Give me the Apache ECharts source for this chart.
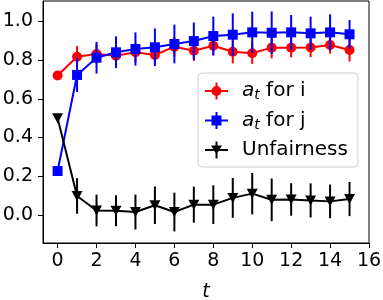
<!DOCTYPE html>
<html>
<head>
<meta charset="utf-8">
<script src="https://cdn.jsdelivr.net/npm/echarts@6/dist/echarts.min.js"></script>
<style>html,body{margin:0;padding:0;background:#fff;}#c{width:383px;height:300px;}</style>
</head>
<body>
<div id="c"></div>
<script>
const t = [0,1,2,3,4,5,6,7,8,9,10,11,12,13,14,15];
const aI = [0.72,0.817,0.831,0.822,0.84,0.826,0.869,0.848,0.874,0.843,0.835,0.864,0.864,0.865,0.878,0.852];
const aIErr = [0,0.055,0.05,0.055,0.05,0.05,0.05,0.053,0.05,0.06,0.055,0.055,0.05,0.05,0.045,0.06];
const aJ = [0.227,0.723,0.812,0.84,0.857,0.866,0.883,0.898,0.924,0.931,0.943,0.941,0.943,0.938,0.943,0.933];
const aJErr = [0,0.088,0.082,0.082,0.086,0.097,0.10,0.096,0.10,0.11,0.107,0.11,0.09,0.086,0.093,0.074];
const unf = [0.5,0.098,0.023,0.022,0.015,0.05,0.015,0.053,0.053,0.088,0.11,0.078,0.08,0.075,0.07,0.082];
const unfErr = [0,0.092,0.082,0.08,0.09,0.097,0.10,0.093,0.10,0.103,0.107,0.11,0.084,0.088,0.087,0.088];
const xTicks = [0,2,4,6,8,10,12,14,16];
const yTicks = [0,0.2,0.4,0.6,0.8,1.0];
const names = ['a_t for i','a_t for j','Unfairness'];
const colors = ['#ff0000','#0000ff','#000000'];

const FONT = 'DejaVu Sans';
function pts(ys){ return t.map((x,i)=>[x, ys[i]]); }
function errData(ys, es){ return t.map((x,i)=>[x, ys[i], es[i]]); }
function errSeries(name, ys, es, color, z){
  return {
    type:'custom', name:name, z:z, silent:true,
    data: errData(ys, es),
    encode:{x:0,y:1},
    renderItem:function(params, api){
      const x = api.value(0), y = api.value(1), e = api.value(2);
      if(!e) return null;
      const p1 = api.coord([x, y - e]);
      const p2 = api.coord([x, y + e]);
      return {type:'line', shape:{x1:p1[0],y1:p1[1],x2:p2[0],y2:p2[1]},
        style:{stroke:color, lineWidth:2}};
    }
  };
}
const iconCircle = 'path://M0 7.5H23V9.5H0Z M10.5 0H12.5V17H10.5Z M16.5 8.5A5 5 0 1 1 6.5 8.5A5 5 0 1 1 16.5 8.5Z';
const iconRect = 'path://M0 7.5H23V9.5H0Z M10.5 0H12.5V17H10.5Z M6.5 3.5H16.5V13.5H6.5Z';
const iconTri = 'path://M0 7.5H23V9.5H0Z M10.5 0H12.5V17H10.5Z M6 4H17L11.5 13Z';

const chart = echarts.init(document.getElementById('c'));
chart.setOption({
  animation:false,
  backgroundColor:'#fff',
  grid:{left:43, right:14, top:1, bottom:57, outerBoundsMode:'none', containLabel:false,
    show:true, borderColor:'#000', borderWidth:1, backgroundColor:'transparent'},
  xAxis:{type:'value', min:-0.75, max:16,
    name:'t', nameLocation:'middle', nameGap:40,
    nameTextStyle:{fontFamily:FONT, fontSize:19, fontStyle:'italic', color:'#000'},
    axisLine:{show:true, onZero:false, lineStyle:{color:'#000', width:1}},
    axisTick:{show:true, customValues:xTicks, length:5, lineStyle:{color:'#000'}},
    axisLabel:{customValues:xTicks, fontFamily:FONT, fontSize:19, color:'#000', margin:9},
    splitLine:{show:false}},
  yAxis:{type:'value', min:-0.145, max:1.105,
    axisLine:{show:true, onZero:false, lineStyle:{color:'#000', width:1}},
    axisTick:{show:true, customValues:yTicks, length:5, lineStyle:{color:'#000'}},
    axisLabel:{customValues:yTicks, fontFamily:FONT, fontSize:19, color:'#000', margin:10,
      formatter:function(v){return v.toFixed(1);}},
    splitLine:{show:false}},
  legend:{
    orient:'vertical', left:198, top:73,
    padding:[8,10,7,7], itemWidth:23, itemHeight:17, itemGap:8,
    borderColor:'#d0d0d0', borderWidth:1, borderRadius:4, backgroundColor:'rgba(255,255,255,0.8)',
    data:[
      {name:names[0], icon:iconCircle, itemStyle:{color:colors[0], borderWidth:0}},
      {name:names[1], icon:iconRect, itemStyle:{color:colors[1], borderWidth:0}},
      {name:names[2], icon:iconTri, itemStyle:{color:colors[2], borderWidth:0}}
    ],
    textStyle:{fontFamily:FONT, fontSize:20, color:'#000', padding:[0,0,0,9],
      rich:{
        a:{fontFamily:FONT, fontSize:20, fontStyle:'italic', color:'#000'},
        s:{fontFamily:FONT, fontSize:14, fontStyle:'italic', color:'#000', padding:[9,0,0,0]},
        n:{fontFamily:FONT, fontSize:20, color:'#000'}
      }},
    formatter:function(name){
      if(name.indexOf('a_t')===0){ return '{a|a}{s|t}{n|' + name.slice(3) + '}'; }
      return '{n|' + name + '}';
    }
  },
  series:[
    errSeries('eI', aI, aIErr, colors[0], 1),
    {type:'line', name:names[0], z:2, data:pts(aI), symbol:'circle', symbolSize:10,
      lineStyle:{color:colors[0], width:2}, itemStyle:{color:colors[0]}},
    errSeries('eJ', aJ, aJErr, colors[1], 3),
    {type:'line', name:names[1], z:4, data:pts(aJ), symbol:'rect', symbolSize:10,
      lineStyle:{color:colors[1], width:2}, itemStyle:{color:colors[1]}},
    errSeries('eU', unf, unfErr, colors[2], 5),
    {type:'line', name:names[2], z:6, data:pts(unf), symbol:'triangle', symbolRotate:180, symbolSize:[11,10],
      lineStyle:{color:colors[2], width:2}, itemStyle:{color:colors[2]}}
  ]
});
</script>
</body>
</html>
